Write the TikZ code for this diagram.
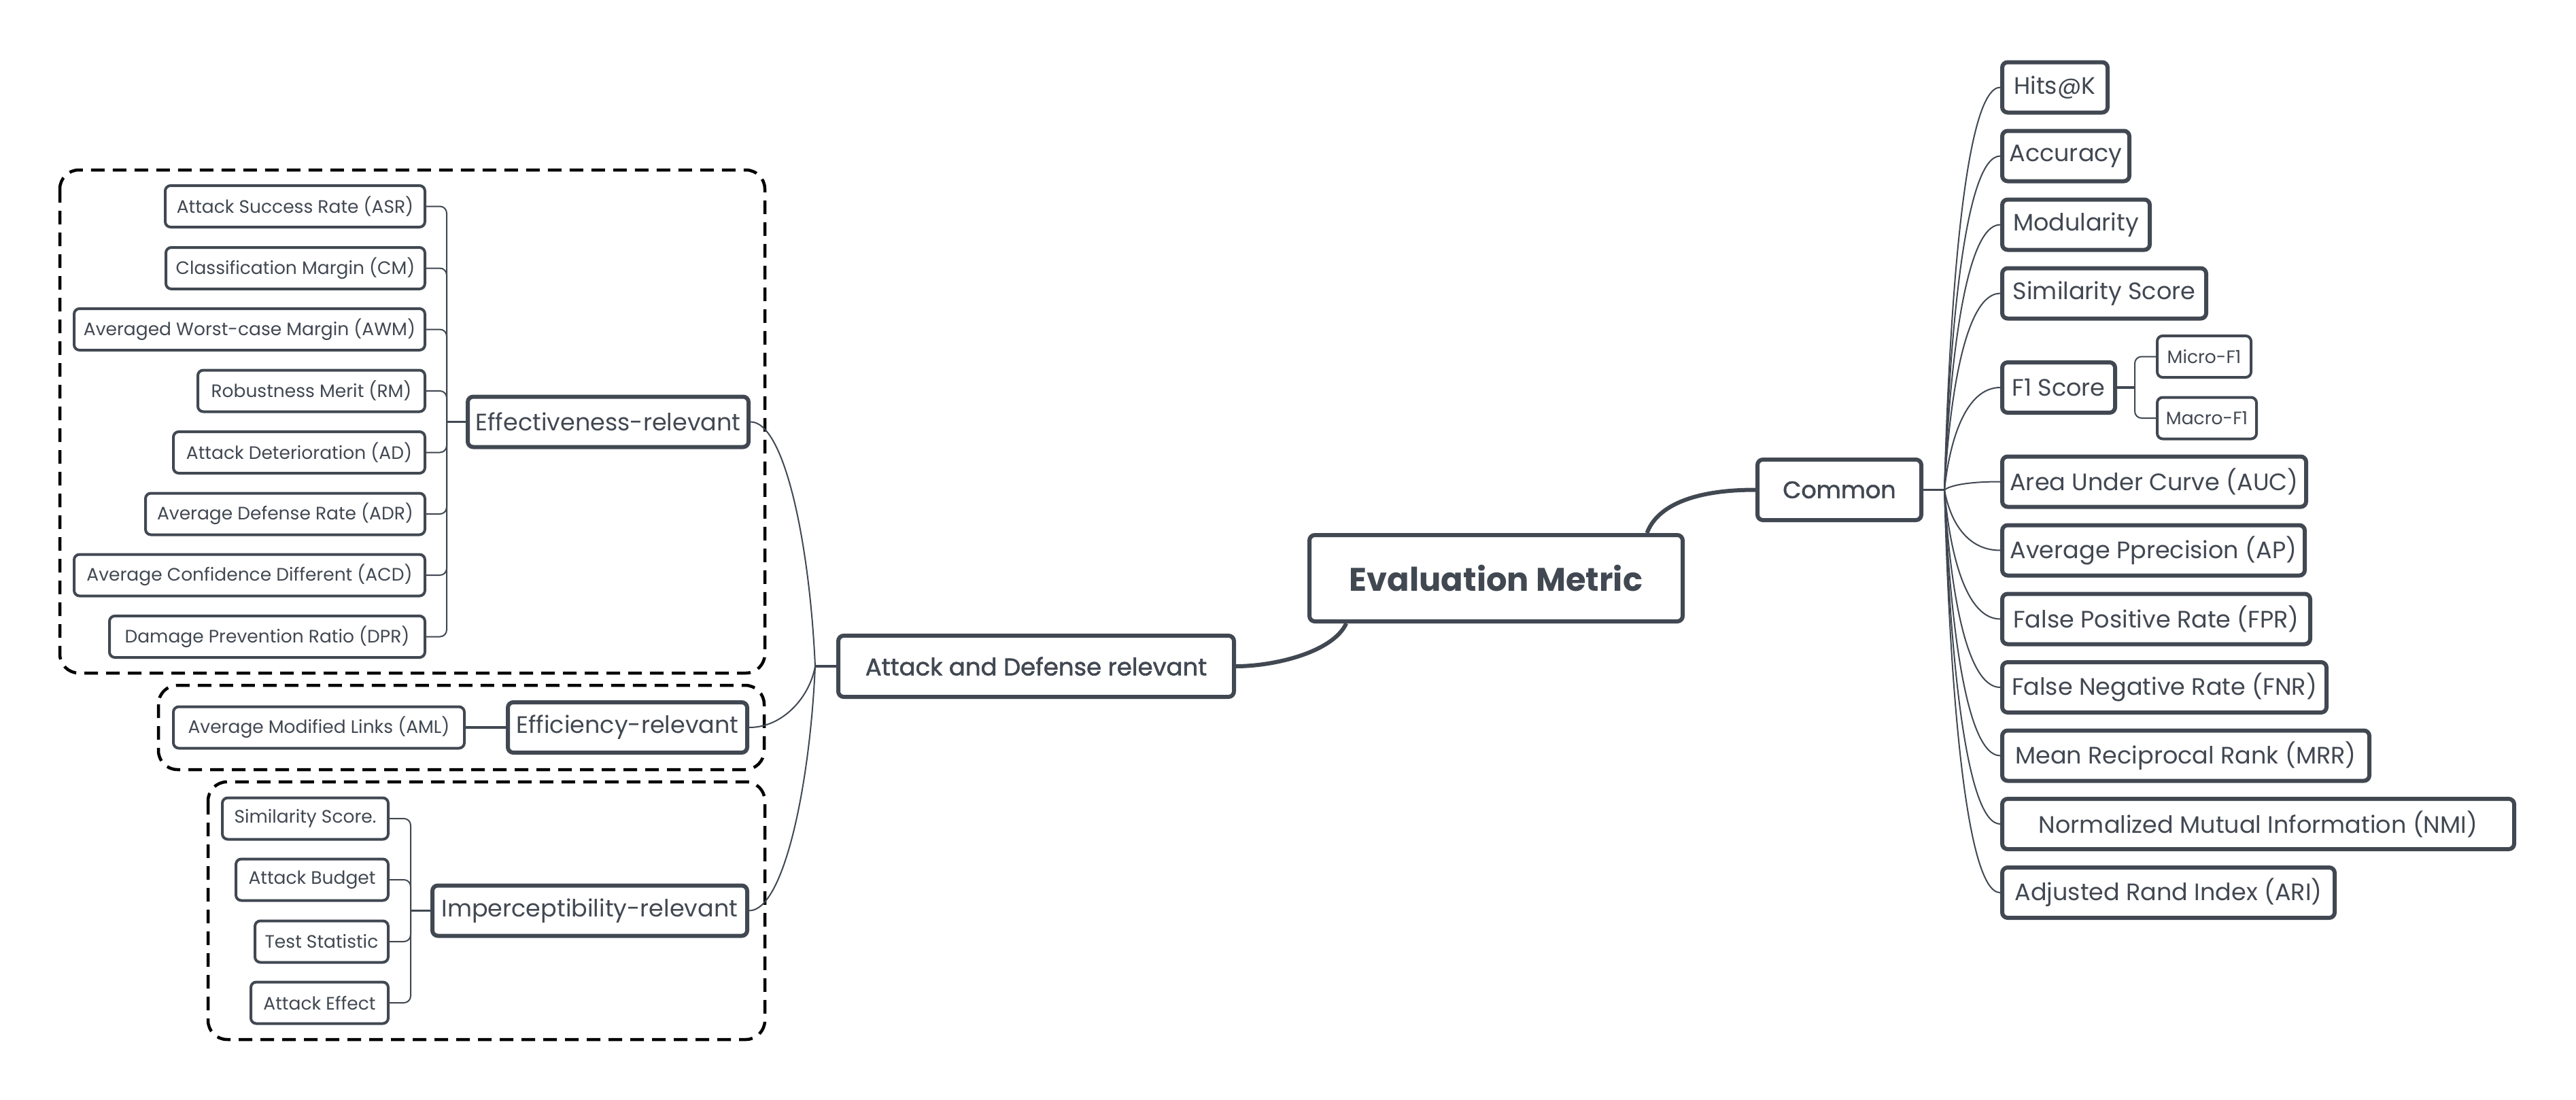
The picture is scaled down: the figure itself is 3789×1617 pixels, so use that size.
\documentclass[tikz,border=0pt]{standalone}
\usepackage{fontspec}
\setmainfont{Poppins}
\newfontfamily\medfont[FakeBold=1.6]{Poppins}
\usetikzlibrary{calc}
\definecolor{ink}{HTML}{414852}
\begin{document}
\begin{tikzpicture}[x=1pt,y=-1pt,
  box/.style={draw=ink, text=ink, rounded corners=8pt, inner sep=0pt},
  rleaf/.style={box, line width=6pt, minimum height=74pt, anchor=west, font=\fontsize{35}{38}\selectfont},
  sleaf/.style={box, line width=4pt, minimum height=61pt, anchor=east, font=\fontsize{26.5}{30}\selectfont},
  tleaf/.style={box, line width=4pt, minimum height=61pt, anchor=west, font=\fontsize{26.5}{30}\selectfont},
  mid/.style={box, line width=6pt, minimum height=74pt, font=\fontsize{35}{38}\selectfont},
  thinc/.style={draw=ink, line width=2pt},
  stubc/.style={draw=ink, line width=3.5pt},
  thickc/.style={draw=ink, line width=6pt},
  dashbox/.style={draw=black, line width=4.5pt, dash pattern=on 20pt off 12pt, rounded corners=28pt}]
\fill[white] (0,0) rectangle (3789,1617);
\useasboundingbox (0,0) rectangle (3789,1617);

% dashed group frames
\draw[dashbox] (88,250) rectangle (1125,990);
\draw[dashbox] (233,1008) rectangle (1124,1132);
\draw[dashbox] (306,1150) rectangle (1125,1529);

% main nodes
\node[box, line width=6pt, minimum width=549pt, minimum height=127pt, font=\fontsize{48}{52}\bfseries\selectfont] (em) at (2200.5,850.5) {Evaluation Metric};
\node[box, line width=6pt, minimum width=582pt, minimum height=90pt, font=\fontsize{35.5}{38}\medfont\selectfont] (aad) at (1524,980) {Attack and Defense relevant};
\node[box, line width=6pt, minimum width=241pt, minimum height=89pt, font=\fontsize{35}{38}\medfont\selectfont] (common) at (2705.5,720.5) {Common};

% mid nodes
\node[mid, minimum width=413pt] (eff) at (894.5,620.5) {Effectiveness-relevant};
\node[mid, minimum width=352pt] (effi) at (923,1070) {Efficiency-relevant};
\node[mid, minimum width=463pt] (imp) at (867.5,1339.5) {Imperceptibility-relevant};

% effectiveness leaves
\node[sleaf, minimum width=382pt] (asr) at (627,303.5) {Attack Success Rate (ASR)};
\node[sleaf, minimum width=381pt] (cm) at (627,394.5) {Classification Margin (CM)};
\node[sleaf, minimum width=516pt] (awm) at (627,484.5) {Averaged Worst-case Margin (AWM)};
\node[sleaf, minimum width=334pt] (rm) at (627,575) {Robustness Merit (RM)};
\node[sleaf, minimum width=370pt] (ad) at (627,665.5) {Attack Deterioration (AD)};
\node[sleaf, minimum width=411pt] (adr) at (627,756) {Average Defense Rate (ADR)};
\node[sleaf, minimum width=516pt] (acd) at (627,846) {Average Confidence Different (ACD)};
\node[sleaf, minimum width=464pt] (dpr) at (627,936.5) {Damage Prevention Ratio (DPR)};

% efficiency leaf
\node[sleaf, minimum width=428pt] (aml) at (685,1070) {Average Modified Links (AML)};

% imperceptibility leaves
\node[sleaf, minimum width=244pt] (sims) at (573,1204) {Similarity Score.};
\node[sleaf, minimum width=224pt] (bud) at (573,1294) {Attack Budget};
\node[sleaf, minimum width=196pt] (tst) at (573,1385) {Test Statistic};
\node[sleaf, minimum width=202pt] (aef) at (573,1475) {Attack Effect};

% common leaves
\node[rleaf, minimum width=155pt] (hits) at (2942,128.5) {Hits@K};
\node[rleaf, minimum width=187pt] (acc) at (2942,229.5) {Accuracy};
\node[rleaf, minimum width=217pt] (mod) at (2942,330.5) {Modularity};
\node[rleaf, minimum width=300pt] (sim) at (2942,431.5) {Similarity Score};
\node[rleaf, minimum width=166pt] (f1) at (2942,570) {F1 Score};
\node[rleaf, minimum width=447pt] (auc) at (2942,708.5) {Area Under Curve (AUC)};
\node[rleaf, minimum width=445pt] (ap) at (2942,809.5) {Average Pprecision (AP)};
\node[rleaf, minimum width=453pt] (fpr) at (2942,910.5) {False Positive Rate (FPR)};
\node[rleaf, minimum width=477pt] (fnr) at (2942,1011) {False Negative Rate (FNR)};
\node[rleaf, minimum width=540pt] (mrr) at (2942,1111.5) {Mean Reciprocal Rank (MRR)};
\node[rleaf, minimum width=753pt] (nmi) at (2942,1212) {Normalized Mutual Information (NMI)};
\node[rleaf, minimum width=489pt] (ari) at (2942,1313) {Adjusted Rand Index (ARI)};
\node[tleaf, minimum width=138pt] (micro) at (3171,524.5) {Micro-F1};
\node[tleaf, minimum width=146pt] (macro) at (3171,615) {Macro-F1};

% thick connectors from the root
\draw[thickc] ($(em.south west)!0.103!(em.south east)$) .. controls +(-20,43) and +(55,0) .. (aad.east);
\draw[thickc] ($(em.north west)!0.9!(em.north east)$) .. controls +(14,-38) and +(-95,0) .. (common.west);

% common fan
\coordinate (cj) at (2860,720.5);
\draw[stubc] (common.east) -- (cj);
\foreach \L in {hits,acc,mod,sim,f1,auc,ap,fpr,fnr,mrr,nmi,ari}{
  \draw[thinc] (cj) .. controls ($(cj)!0.5!(cj|-\L.west)+(8,0)$) and ($(\L.west)+(-50,0)$) .. (\L.west);
}
% F1 bracket
\coordinate (fj) at (3140,570);
\draw[stubc] (f1.east) -- (fj);
\draw[thinc, rounded corners=10pt] (micro.west) -| (fj);
\draw[thinc, rounded corners=10pt] (macro.west) -| (fj);

% attack and defense fan
\coordinate (aj) at (1199,980);
\draw[stubc] (aad.west) -- (aj);
\foreach \L in {eff,effi,imp}{
  \draw[thinc] (aj) .. controls ($(aj)!0.5!(aj|-\L.east)+(-8,0)$) and ($(\L.east)+(50,0)$) .. (\L.east);
}

% effectiveness bracket
\coordinate (ej) at (657,620.5);
\draw[stubc] (eff.west) -- (ej);
\foreach \L in {asr,cm,awm,rm,ad,adr,acd,dpr}{
  \draw[thinc, rounded corners=10pt] (\L.east) -| (ej);
}
% efficiency link
\draw[stubc] (aml.east) -- (effi.west);
% imperceptibility bracket
\coordinate (ij) at (604,1339.5);
\draw[stubc] (imp.west) -- (ij);
\foreach \L in {sims,bud,tst,aef}{
  \draw[thinc, rounded corners=10pt] (\L.east) -| (ij);
}
\end{tikzpicture}
\end{document}
